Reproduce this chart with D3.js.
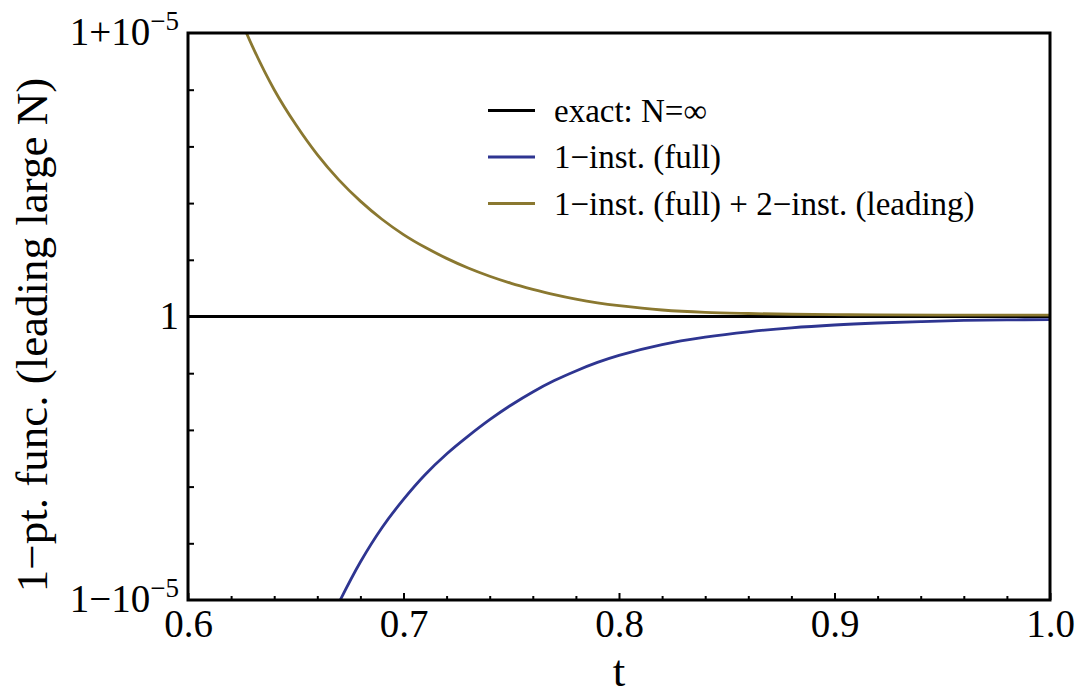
<!DOCTYPE html>
<html>
<head>
<meta charset="utf-8">
<script src="https://cdn.jsdelivr.net/npm/d3@7"></script>
<style>
  body { margin: 0; background: #fff; }
  svg text { font-family: "Liberation Serif", "DejaVu Serif", serif; fill: #000; }
</style>
</head>
<body>
<div id="chart"></div>
<script>
// values are deviations from 1, in units of 1e-5
var goldT = [0.62, 0.63, 0.64, 0.65, 0.66, 0.67, 0.68, 0.69, 0.70, 0.71, 0.72, 0.73, 0.74, 0.75, 0.76, 0.77, 0.78, 0.79, 0.80,
             0.82, 0.84, 0.86, 0.88, 0.90, 0.92, 0.95, 1.00];
var goldDev = [1.13, 0.951, 0.80, 0.677, 0.571, 0.482, 0.407, 0.343, 0.289, 0.244, 0.205, 0.171, 0.142, 0.117, 0.096, 0.077, 0.061, 0.048, 0.038,
               0.023, 0.0145, 0.0105, 0.008, 0.0065, 0.0055, 0.005, 0.005];

var blueT = [0.66, 0.67, 0.68, 0.69, 0.70, 0.71, 0.72, 0.73, 0.74, 0.75, 0.76, 0.77, 0.78, 0.79, 0.80,
             0.82, 0.84, 0.86, 0.88, 0.90, 0.92, 0.94, 0.96, 0.98, 1.00];
var blueDev = [-1.17, -1.01, -0.866, -0.745, -0.645, -0.558, -0.485, -0.422, -0.364, -0.312, -0.266, -0.226, -0.192, -0.162, -0.137,
               -0.099, -0.073, -0.054, -0.040, -0.030, -0.023, -0.018, -0.014, -0.012, -0.011];

var exactT = [0.6, 1.0];
var exactDev = [0, 0];

var xMajor = [0.6, 0.7, 0.8, 0.9, 1.0];
var xMajorLabels = ["0.6", "0.7", "0.8", "0.9", "1.0"];
var xMinor = [0.62, 0.64, 0.66, 0.68, 0.72, 0.74, 0.76, 0.78, 0.82, 0.84, 0.86, 0.88, 0.92, 0.94, 0.96, 0.98];
var yMinor = [-0.8, -0.6, -0.4, -0.2, 0.2, 0.4, 0.6, 0.8];
var yLabelVals = [1, 0, -1];
var yLabelBase = ["1+10", "1", "1\u221210"];
var yLabelSup = ["\u22125", "", "\u22125"];

var legendNames = ["exact: N=\u221e", "1\u2212inst. (full)", "1\u2212inst. (full) + 2\u2212inst. (leading)"];
var colors = ["#000000", "#2e3591", "#8a7830"];

var width = 1084, height = 696;
var mLeft = 188, mRight = 1050, mTop = 33, mBottom = 600;

var svg = d3.select("#chart").append("svg")
    .attr("width", width)
    .attr("height", height);

var x = d3.scaleLinear().domain([0.6, 1.0]).range([mLeft, mRight]);
var y = d3.scaleLinear().domain([-1, 1]).range([mBottom, mTop]);

svg.append("clipPath").attr("id", "clip")
  .append("rect")
    .attr("x", mLeft).attr("y", mTop)
    .attr("width", mRight - mLeft).attr("height", mBottom - mTop);

var line = d3.line()
    .x(function(d) { return x(d[0]); })
    .y(function(d) { return y(d[1]); })
    .curve(d3.curveCatmullRom.alpha(0.5));

var plot = svg.append("g").attr("clip-path", "url(#clip)");
var series = [d3.zip(exactT, exactDev), d3.zip(blueT, blueDev), d3.zip(goldT, goldDev)];
series.forEach(function(s, i) {
  plot.append("path")
    .datum(s)
    .attr("d", line)
    .attr("fill", "none")
    .attr("stroke", colors[i])
    .attr("stroke-width", i == 0 ? 3 : 2.8);
});

// ticks (pointing inward)
function styleAxis(g) {
  g.select(".domain").remove();
  g.selectAll(".tick line").attr("stroke", "#000").attr("stroke-width", 2);
}
svg.append("g")
    .attr("transform", "translate(0," + mBottom + ")")
    .call(d3.axisBottom(x).tickValues(xMinor).tickSizeInner(-4).tickFormat(""))
    .call(styleAxis);
svg.append("g")
    .attr("transform", "translate(0," + mBottom + ")")
    .call(d3.axisBottom(x).tickValues(xMajor).tickSizeInner(-7).tickPadding(9)
      .tickFormat(function(d, i) { return xMajorLabels[i]; }))
    .call(styleAxis)
    .call(function(g) {
      g.selectAll("text").attr("font-size", 39).attr("font-family", "Liberation Serif");
    });
svg.append("g")
    .attr("transform", "translate(" + mLeft + ",0)")
    .call(d3.axisLeft(y).tickValues(yMinor).tickSizeInner(-6).tickFormat(""))
    .call(styleAxis);

// y labels with superscripts
var yl = svg.selectAll(".ylab").data(yLabelVals).enter()
  .append("text")
    .attr("class", "ylab")
    .attr("x", mLeft - 9)
    .attr("y", function(d) { return y(d) + 12; })
    .attr("text-anchor", "end")
    .attr("font-size", 39);
yl.append("tspan").text(function(d, i) { return yLabelBase[i]; });
yl.append("tspan")
    .attr("dy", -15)
    .attr("font-size", 27)
    .text(function(d, i) { return yLabelSup[i]; });

// frame
svg.append("rect")
    .attr("x", mLeft).attr("y", mTop)
    .attr("width", mRight - mLeft).attr("height", mBottom - mTop)
    .attr("fill", "none")
    .attr("stroke", "#000")
    .attr("stroke-width", 3);

// axis titles
svg.append("text")
    .attr("x", (mLeft + mRight) / 2)
    .attr("y", 686)
    .attr("text-anchor", "middle")
    .attr("font-size", 45)
    .text("t");
svg.append("text")
    .attr("transform", "translate(47,335) rotate(-90)")
    .attr("text-anchor", "middle")
    .attr("font-size", 45)
    .text("1\u2212pt. func. (leading large N)");

// legend
var leg = svg.selectAll(".leg").data(legendNames).enter()
  .append("g")
    .attr("class", "leg")
    .attr("transform", function(d, i) { return "translate(488," + (110.5 + i * 46.5) + ")"; });
leg.append("line")
    .attr("x1", 0).attr("x2", 47)
    .attr("stroke", function(d, i) { return colors[i]; })
    .attr("stroke-width", 3);
leg.append("text")
    .attr("x", 66)
    .attr("y", 11)
    .attr("font-size", 33)
    .text(function(d) { return d; });
</script>
</body>
</html>
